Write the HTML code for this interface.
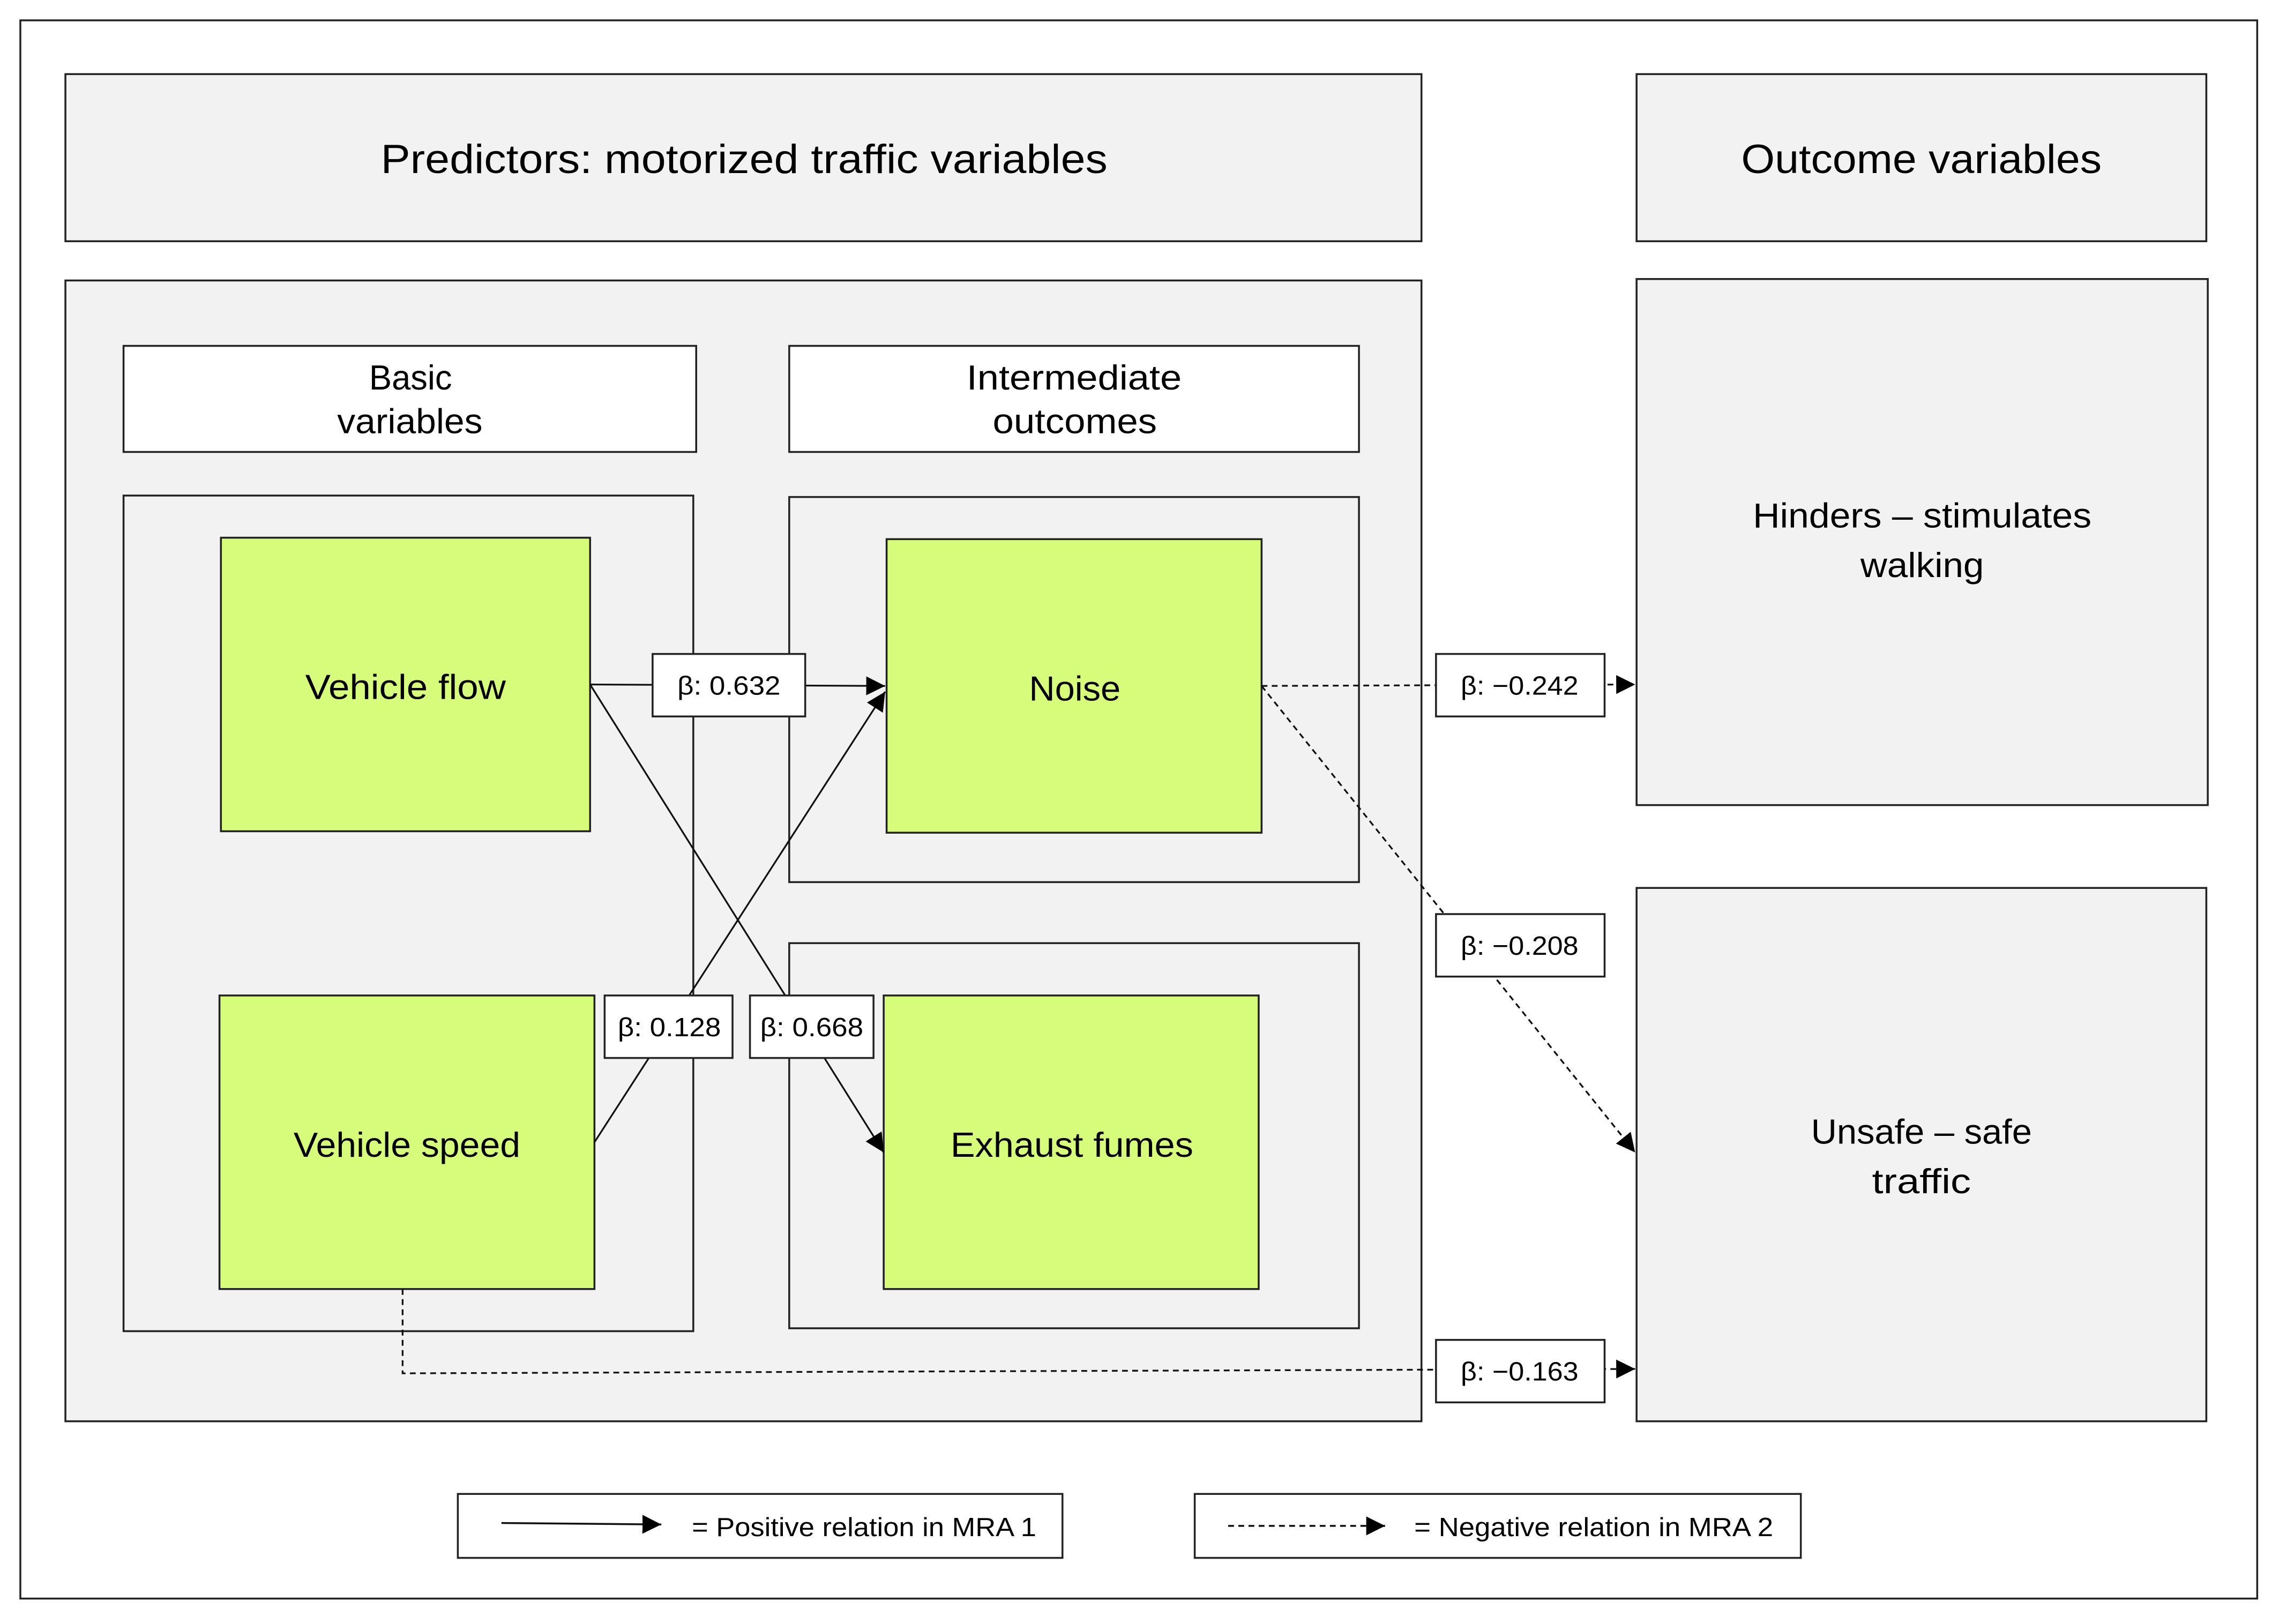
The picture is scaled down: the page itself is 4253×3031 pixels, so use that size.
<!DOCTYPE html>
<html><head><meta charset="utf-8"><style>
html,body{margin:0;padding:0;background:#fff}
svg{display:block}
text{font-family:"Liberation Sans",sans-serif;fill:#000}
</style></head><body>
<svg width="4253" height="3031" viewBox="0 0 1568 1117.5" preserveAspectRatio="none" xmlns="http://www.w3.org/2000/svg">
<defs>
<marker id="a" viewBox="0 0 10 10" refX="10" refY="5" markerWidth="9" markerHeight="9" markerUnits="userSpaceOnUse" orient="auto"><path d="M0,0 L10,5 L0,10 z" fill="#000"/></marker>
<marker id="b" viewBox="0 0 10 10" refX="10" refY="5" markerWidth="13" markerHeight="13" markerUnits="userSpaceOnUse" orient="auto"><path d="M0,0 L10,5 L0,10 z" fill="#000"/></marker>
</defs>
<rect x="0" y="0" width="1568" height="1117.5" fill="#fff"/>
<g stroke="#222" stroke-width="1.3">
<rect x="14" y="14" width="1539" height="1086" fill="#fff"/>
<rect x="45" y="51" width="933" height="115" fill="#f2f2f2"/>
<rect x="1126" y="51" width="392" height="115" fill="#f2f2f2"/>
<rect x="45" y="193" width="933" height="785" fill="#f2f2f2"/>
<rect x="85" y="238" width="394" height="73" fill="#fff"/>
<rect x="543" y="238" width="392" height="73" fill="#fff"/>
<rect x="85" y="341" width="392" height="575" fill="#f2f2f2"/>
<rect x="543" y="342" width="392" height="265" fill="#f2f2f2"/>
<rect x="543" y="649" width="392" height="265" fill="#f2f2f2"/>
<rect x="1126" y="192" width="393" height="362" fill="#f2f2f2"/>
<rect x="1126" y="611" width="392" height="367" fill="#f2f2f2"/>
<rect x="152" y="370" width="254" height="202" fill="#d7fb7b"/>
<rect x="610" y="371" width="258" height="202" fill="#d7fb7b"/>
<rect x="151" y="685" width="258" height="202" fill="#d7fb7b"/>
<rect x="608" y="685" width="258" height="202" fill="#d7fb7b"/>
</g>
<g stroke="#111" stroke-width="1.2" fill="none">
<line x1="406" y1="471" x2="609" y2="472" marker-end="url(#b)"/>
<line x1="406" y1="471" x2="608" y2="793" marker-end="url(#b)"/>
<line x1="409" y1="786" x2="609" y2="476" marker-end="url(#b)"/>
<g stroke-dasharray="4,3">
<line x1="868" y1="472" x2="1125" y2="471" marker-end="url(#b)"/>
<line x1="868" y1="472" x2="1125" y2="793" marker-end="url(#b)"/>
<polyline points="277,887 277,945 1125,942" marker-end="url(#b)"/>
</g>
</g>
<g stroke="#222" stroke-width="1.3" fill="#fff">
<rect x="449" y="450" width="105" height="43"/>
<rect x="416" y="685" width="88" height="43"/>
<rect x="516" y="685" width="85" height="43"/>
<rect x="988" y="450" width="116" height="43"/>
<rect x="988" y="629" width="116" height="43"/>
<rect x="988" y="922" width="116" height="43"/>
<rect x="315" y="1028" width="416" height="44"/>
<rect x="822" y="1028" width="417" height="44"/>
</g>
<g stroke="#111" stroke-width="1.3" fill="none">
<line x1="345" y1="1048" x2="455" y2="1049" marker-end="url(#b)"/>
<line x1="845" y1="1050" x2="953" y2="1050" stroke-dasharray="4,3" marker-end="url(#b)"/>
</g>
<g font-size="28" text-anchor="start">
<text x="262" y="119" textLength="500" lengthAdjust="spacingAndGlyphs">Predictors: motorized traffic variables</text>
<text x="1198" y="119" textLength="248" lengthAdjust="spacingAndGlyphs">Outcome variables</text>
</g>
<g font-size="24">
<text x="1206" y="363" textLength="233" lengthAdjust="spacingAndGlyphs">Hinders – stimulates</text>
<text x="1280" y="397" textLength="85" lengthAdjust="spacingAndGlyphs">walking</text>
<text x="1246" y="787" textLength="152" lengthAdjust="spacingAndGlyphs">Unsafe – safe</text>
<text x="1288" y="821" textLength="68" lengthAdjust="spacingAndGlyphs">traffic</text>
<text x="210" y="481" textLength="138" lengthAdjust="spacingAndGlyphs">Vehicle flow</text>
<text x="708" y="482" textLength="63" lengthAdjust="spacingAndGlyphs">Noise</text>
<text x="202" y="796" textLength="156" lengthAdjust="spacingAndGlyphs">Vehicle speed</text>
<text x="654" y="796" textLength="167" lengthAdjust="spacingAndGlyphs">Exhaust fumes</text>
<text x="254" y="268" textLength="57" lengthAdjust="spacingAndGlyphs">Basic</text>
<text x="232" y="298" textLength="100" lengthAdjust="spacingAndGlyphs">variables</text>
<text x="665" y="268" textLength="148" lengthAdjust="spacingAndGlyphs">Intermediate</text>
<text x="683" y="298" textLength="113" lengthAdjust="spacingAndGlyphs">outcomes</text>
</g>
<g font-size="18">
<text x="466" y="478" textLength="71" lengthAdjust="spacingAndGlyphs">β: 0.632</text>
<text x="425" y="713" textLength="71" lengthAdjust="spacingAndGlyphs">β: 0.128</text>
<text x="523" y="713" textLength="71" lengthAdjust="spacingAndGlyphs">β: 0.668</text>
<text x="1005" y="478" textLength="81" lengthAdjust="spacingAndGlyphs">β: −0.242</text>
<text x="1005" y="657" textLength="81" lengthAdjust="spacingAndGlyphs">β: −0.208</text>
<text x="1005" y="950" textLength="81" lengthAdjust="spacingAndGlyphs">β: −0.163</text>
<text x="476" y="1057" textLength="237" lengthAdjust="spacingAndGlyphs">= Positive relation in MRA 1</text>
<text x="973" y="1057" textLength="247" lengthAdjust="spacingAndGlyphs">= Negative relation in MRA 2</text>
</g>
</svg>
</body></html>
